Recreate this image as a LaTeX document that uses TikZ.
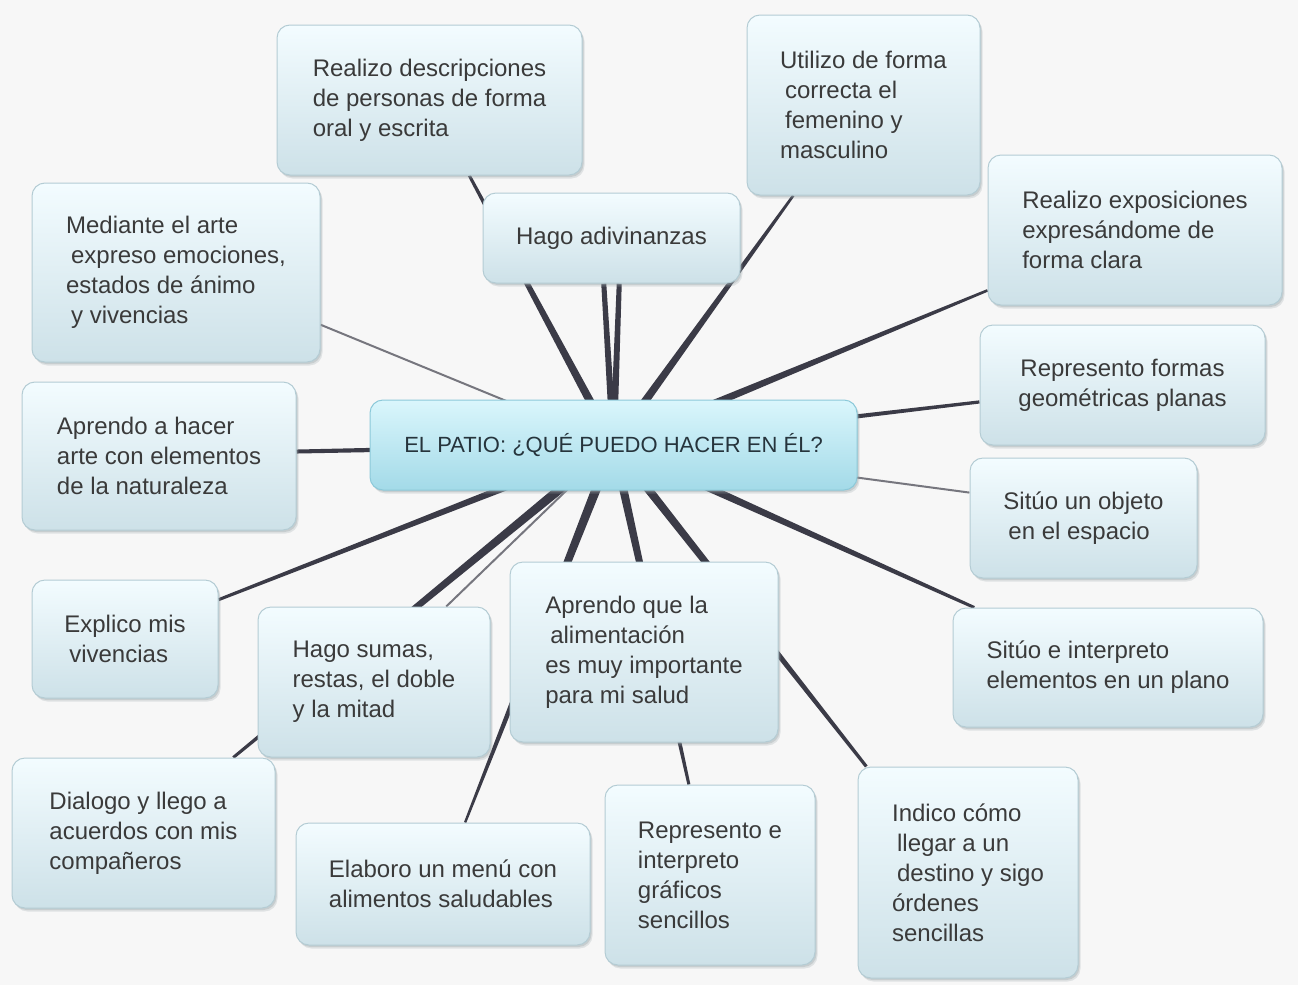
\documentclass[tikz,border=0pt]{standalone}
\usepackage{fontspec}
\setmainfont{Liberation Sans}
\usetikzlibrary{calc,shadows}
\definecolor{bgc}{HTML}{F7F7F7}
\definecolor{boxtop}{HTML}{F3FCFF}
\definecolor{boxbot}{HTML}{CDE1E8}
\definecolor{boxborder}{HTML}{B4CCD4}
\definecolor{roottop}{HTML}{DAF6FC}
\definecolor{rootbot}{HTML}{A3DAE8}
\definecolor{rootborder}{HTML}{8CC9D9}
\definecolor{txt}{HTML}{3A3A3A}
\definecolor{roottxt}{HTML}{26343C}
\definecolor{lc}{HTML}{3B3B47}
\definecolor{lcthin}{HTML}{76767E}
\definecolor{shadowc}{HTML}{9AA6AA}
\pgfdeclarelayer{bg}
\pgfdeclarelayer{lines}
\pgfsetlayers{bg,lines,main}
\newcommand\taper[5][lc]{\fill[#1] ($(#2)!#4!90:(#3)$) -- ($(#3)!#5!-90:(#2)$) -- ($(#3)!#5!90:(#2)$) -- ($(#2)!#4!-90:(#3)$) -- cycle;}
\begin{document}
\begin{tikzpicture}[x=1pt,y=-1pt,
  box/.style={rounded corners=13pt, draw=boxborder, line width=1pt,
    top color=boxtop, bottom color=boxbot, text=txt,
    font=\fontsize{24}{30}\selectfont, align=left, inner sep=0pt,
    general shadow={shadow xshift=2.5pt, shadow yshift=-3.5pt, fill=shadowc, opacity=0.25},
    general shadow={shadow xshift=1.5pt, shadow yshift=-2pt, fill=shadowc, opacity=0.35}},
  rootbox/.style={box, draw=rootborder, top color=roottop, bottom color=rootbot, text=roottxt,
    font=\fontsize{22}{28}\selectfont}]
\begin{pgfonlayer}{bg}
\fill[bgc] (0,0) rectangle (1298,985);
\end{pgfonlayer}
\useasboundingbox (0,0) rectangle (1298,985);

\node[box, minimum width=305pt, minimum height=150pt] (desc) at (429.5,100) {Realizo descripciones\\de personas de forma\\oral y escrita};
\node[box, minimum width=257pt, minimum height=90pt] (adiv) at (611.5,238) {Hago adivinanzas};
\node[box, minimum width=233pt, minimum height=180pt] (utiliz) at (863.5,105) {Utilizo de forma\\ \hspace*{5pt}correcta el\\ \hspace*{5pt}femenino y\\masculino};
\node[box, minimum width=294pt, minimum height=150pt] (expos) at (1135,230) {Realizo exposiciones\\expresándome de\\forma clara};
\node[box, minimum width=288pt, minimum height=179pt] (mediante) at (176,272.5) {Mediante el arte\\ \hspace*{5pt}expreso emociones,\\estados de ánimo\\ \hspace*{5pt}y vivencias};
\node[box, minimum width=274pt, minimum height=148pt] (arte) at (159,456) {Aprendo a hacer\\arte con elementos\\de la naturaleza};
\node[rootbox, minimum width=487pt, minimum height=90pt] (root) at (613.5,445) {EL PATIO: ¿QUÉ PUEDO HACER EN ÉL?};
\node[box, align=center, minimum width=285pt, minimum height=120pt] (formas) at (1122.5,385) {Represento formas\\geométricas planas};
\node[box, minimum width=227pt, minimum height=120pt] (objeto) at (1083.5,518) {Sitúo un objeto\\ \hspace*{5pt}en el espacio};
\node[box, minimum width=310pt, minimum height=119pt] (plano) at (1108,667.5) {Sitúo e interpreto\\elementos en un plano};
\node[box, minimum width=186pt, minimum height=118pt] (explico) at (125,639) {Explico mis\\ \hspace*{5pt}vivencias};
\node[box, minimum width=232pt, minimum height=150pt] (sumas) at (374,682) {Hago sumas,\\restas, el doble\\y la mitad};
\node[box, minimum width=268pt, minimum height=180pt] (alim) at (644,652) {Aprendo que la\\ \hspace*{5pt}alimentación\\es muy importante\\para mi salud};
\node[box, minimum width=263pt, minimum height=150pt] (dialogo) at (143.5,833) {Dialogo y llego a\\acuerdos con mis\\compañeros};
\node[box, minimum width=294pt, minimum height=122pt] (menu) at (443,884) {Elaboro un menú con\\alimentos saludables};
\node[box, minimum width=210pt, minimum height=180pt] (graf) at (710,875) {Represento e\\interpreto\\gráficos\\sencillos};
\node[box, minimum width=220pt, minimum height=211pt] (indico) at (968,872.5) {Indico cómo\\ \hspace*{5pt}llegar a un\\ \hspace*{5pt}destino y sigo\\órdenes\\sencillas};

\coordinate (e-desc) at ($(desc.south west)!0.63!(desc.south east)$);
\coordinate (e-adivA) at ($(adiv.south west)!0.47!(adiv.south east)$);
\coordinate (e-adivB) at ($(adiv.south west)!0.53!(adiv.south east)$);
\coordinate (e-utiliz) at ($(utiliz.south west)!0.2!(utiliz.south east)$);
\coordinate (e-expos) at ($(expos.north west)!0.9!(expos.south west)$);
\coordinate (e-formas) at ($(formas.north west)!0.64!(formas.south west)$);
\coordinate (e-objeto) at ($(objeto.north west)!0.29!(objeto.south west)$);
\coordinate (e-plano) at ($(plano.north west)!0.07!(plano.north east)$);
\coordinate (e-indico) at ($(indico.north west)!0.04!(indico.north east)$);
\coordinate (e-graf) at ($(graf.north west)!0.4!(graf.north east)$);
\coordinate (e-menu) at ($(menu.north west)!0.575!(menu.north east)$);
\coordinate (e-dialogo) at ($(dialogo.north west)!0.84!(dialogo.north east)$);
\coordinate (e-sumas) at ($(sumas.north west)!0.81!(sumas.north east)$);
\coordinate (e-explico) at ($(explico.north east)!0.17!(explico.south east)$);
\coordinate (e-arte) at ($(arte.north east)!0.47!(arte.south east)$);
\coordinate (e-mediante) at ($(mediante.north east)!0.79!(mediante.south east)$);

\begin{pgfonlayer}{lines}
\taper{root.center}{e-desc}{4.5pt}{1.5pt}
\taper{root.center}{e-adivA}{3.5pt}{2.5pt}
\taper{root.center}{e-adivB}{3.5pt}{2.5pt}
\taper{root.center}{e-utiliz}{4.5pt}{1.3pt}
\taper{root.center}{e-expos}{4.5pt}{1.3pt}
\taper{root.center}{e-formas}{3pt}{1.6pt}
\taper[lcthin]{root.center}{e-objeto}{1pt}{1pt}
\taper{root.center}{e-plano}{4.5pt}{1.5pt}
\taper{root.center}{e-indico}{4.5pt}{1.6pt}
\taper{root.center}{e-graf}{4.5pt}{1.5pt}
\taper{root.center}{e-menu}{5pt}{1.2pt}
\taper{root.center}{e-dialogo}{5pt}{1.5pt}
\taper[lcthin]{root.center}{e-sumas}{1pt}{1pt}
\taper{root.center}{e-explico}{4pt}{1.5pt}
\taper{root.center}{e-arte}{2.5pt}{2pt}
\taper[lcthin]{root.center}{e-mediante}{1pt}{1pt}
\end{pgfonlayer}
\end{tikzpicture}
\end{document}
